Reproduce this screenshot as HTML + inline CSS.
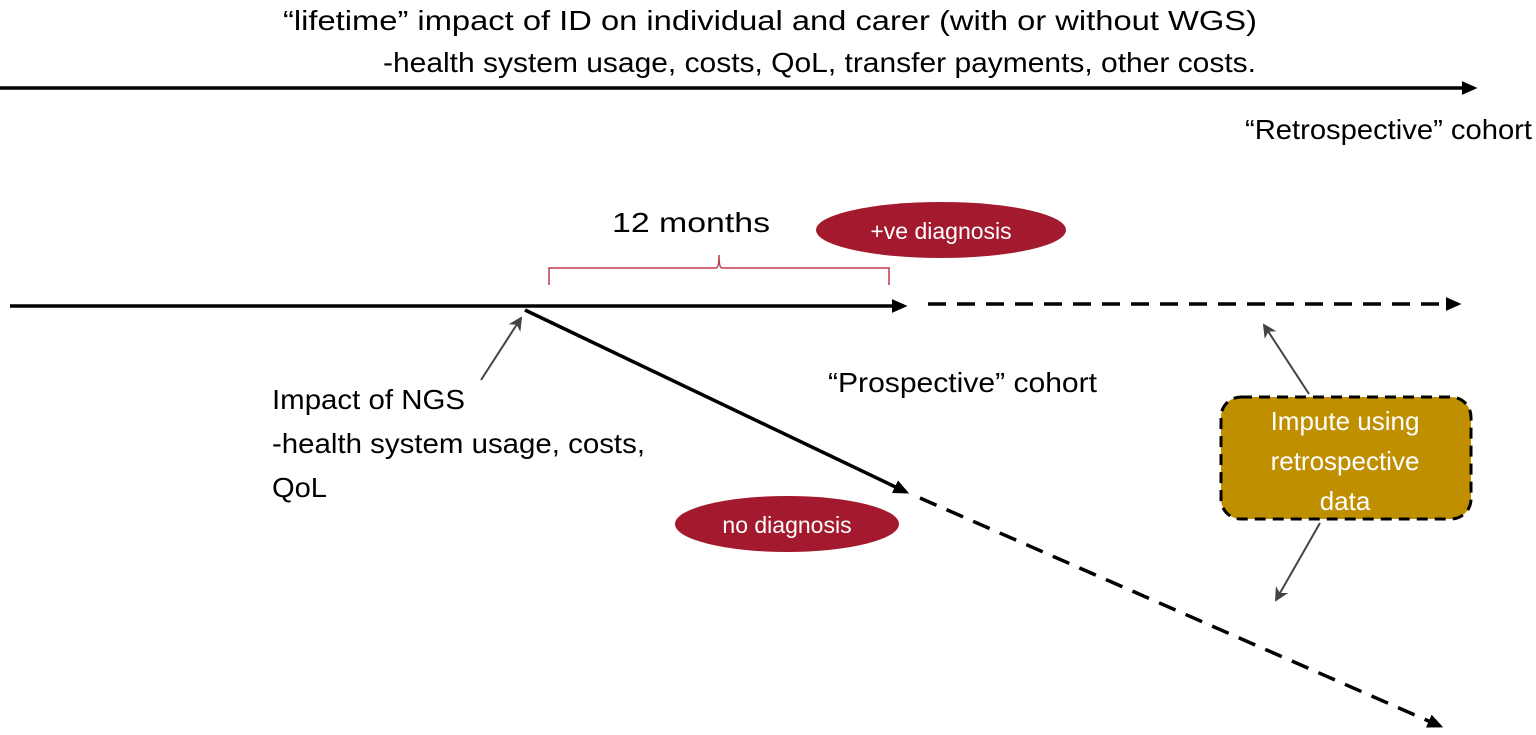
<!DOCTYPE html>
<html><head><meta charset="utf-8"><style>
html,body{margin:0;padding:0;background:#fff;}
svg{display:block;}
text{font-family:"Liberation Sans Narrow","Liberation Sans",sans-serif;}
</style></head><body>
<svg width="1536" height="735" viewBox="0 0 1536 735" xmlns="http://www.w3.org/2000/svg">
<defs>
<marker id="ab" markerWidth="4.5" markerHeight="4" refX="3.5" refY="2" orient="auto" markerUnits="strokeWidth"><path d="M0,0 L4.5,2 L0,4 z" fill="#000"/></marker>
<marker id="ag" markerWidth="7" markerHeight="7" refX="6" refY="3.5" orient="auto" markerUnits="strokeWidth"><path d="M0,0 L7,3.5 L0,7 L2,3.5 z" fill="#444"/></marker>
</defs>
<!-- top -->
<text x="283" y="30" font-size="28" textLength="974" lengthAdjust="spacingAndGlyphs">“lifetime” impact of ID on individual and carer (with or without WGS)</text>
<text x="383" y="72" font-size="28" textLength="873" lengthAdjust="spacingAndGlyphs">-health system usage, costs, QoL, transfer payments, other costs.</text>
<line x1="0" y1="88" x2="1474" y2="88" stroke="#000" stroke-width="3.5" marker-end="url(#ab)"/>
<text x="1245" y="139" font-size="28" textLength="287" lengthAdjust="spacingAndGlyphs">“Retrospective” cohort</text>

<!-- middle -->
<text x="612" y="232" font-size="28" textLength="158" lengthAdjust="spacingAndGlyphs">12 months</text>
<path d="M549,285 L549,268 L716,268 Q719,268 719,255 Q719,268 722,268 L889,268 L889,285" fill="none" stroke="#c0394b" stroke-width="1.5"/>
<ellipse cx="941" cy="230" rx="125" ry="28" fill="#a31a2e"/>
<text x="941" y="239" font-size="23" fill="#fff" text-anchor="middle">+ve diagnosis</text>

<line x1="10" y1="306" x2="904" y2="306" stroke="#000" stroke-width="3.5" marker-end="url(#ab)"/>
<line x1="928" y1="304" x2="1458" y2="304" stroke="#000" stroke-width="3.5" stroke-dasharray="18,11" marker-end="url(#ab)"/>

<line x1="525" y1="310" x2="906" y2="492" stroke="#000" stroke-width="3.5" marker-end="url(#ab)"/>
<line x1="920" y1="498" x2="1440" y2="726" stroke="#000" stroke-width="3.5" stroke-dasharray="18,11" marker-end="url(#ab)"/>

<line x1="481" y1="380" x2="521" y2="318" stroke="#444" stroke-width="2" marker-end="url(#ag)"/>
<text x="272" y="409" font-size="28" textLength="193" lengthAdjust="spacingAndGlyphs">Impact of NGS</text>
<text x="272" y="453" font-size="28" textLength="373" lengthAdjust="spacingAndGlyphs">-health system usage, costs,</text>
<text x="272" y="497" font-size="28" textLength="55" lengthAdjust="spacingAndGlyphs">QoL</text>

<text x="828" y="392" font-size="28" textLength="269" lengthAdjust="spacingAndGlyphs">“Prospective” cohort</text>

<ellipse cx="787" cy="524" rx="112" ry="28" fill="#a31a2e"/>
<text x="787" y="533" font-size="23" fill="#fff" text-anchor="middle">no diagnosis</text>

<!-- impute box -->
<rect x="1221" y="397" width="250" height="122" rx="20" ry="20" fill="#bf8f00" stroke="#000" stroke-width="3" stroke-dasharray="11,7"/>
<text x="1345" y="430" font-size="26" fill="#fff" text-anchor="middle" style="font-family:'Liberation Sans',sans-serif">Impute using</text>
<text x="1345" y="470" font-size="26" fill="#fff" text-anchor="middle" style="font-family:'Liberation Sans',sans-serif">retrospective</text>
<text x="1345" y="510" font-size="26" fill="#fff" text-anchor="middle" style="font-family:'Liberation Sans',sans-serif">data</text>
<line x1="1309" y1="394" x2="1264" y2="325" stroke="#444" stroke-width="2" marker-end="url(#ag)"/>
<line x1="1320" y1="523" x2="1276" y2="600" stroke="#444" stroke-width="2" marker-end="url(#ag)"/>
</svg>
</body></html>
